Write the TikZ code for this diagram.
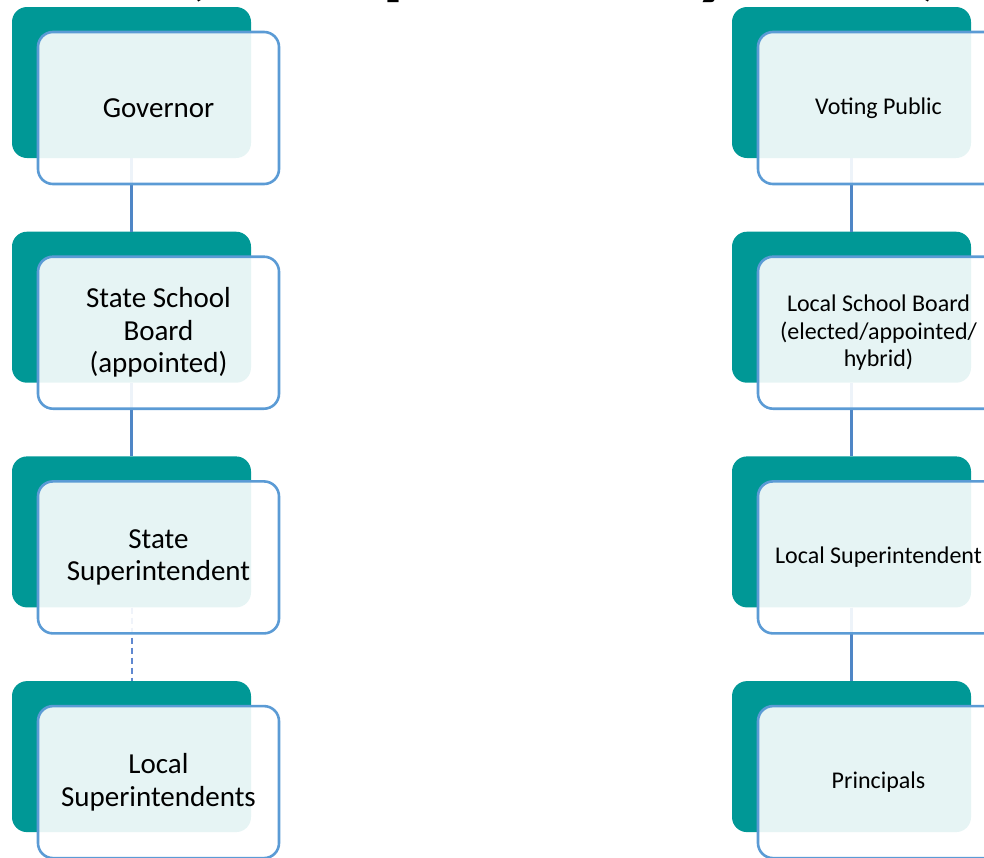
\documentclass[tikz,border=0pt]{standalone}
\usepackage{fontspec}
\setmainfont{Carlito}
\definecolor{tealfill}{RGB}{0,152,150}
\definecolor{bordercol}{RGB}{91,155,213}
\definecolor{conncol}{RGB}{79,134,198}
\definecolor{dashcol}{RGB}{96,136,208}
\begin{document}
\begin{tikzpicture}[x=1pt,y=-1pt,
  tealbox/.style={rectangle, rounded corners=15pt, fill=tealfill, draw=none,
    minimum width=239pt, minimum height=151pt, inner sep=0pt},
  lightbox/.style={rectangle, rounded corners=15pt, fill=white, fill opacity=0.9,
    text opacity=1, draw=bordercol, draw opacity=1, line width=2.6pt,
    minimum width=241pt, minimum height=152pt, inner sep=0pt, align=center, text=black},
  leftfont/.style={font=\fontsize{29}{32.5}\selectfont},
  rightfont/.style={font=\fontsize{24}{27.5}\selectfont},
  conn/.style={draw=conncol, line width=2.6pt},
  dashconn/.style={draw=dashcol, line width=2pt, dash pattern=on 6pt off 4pt},
  titleglyph/.style={font=\fontsize{90}{90}\bfseries, inner sep=0pt, text=black, anchor=base west}
]
\path[use as bounding box, clip] (0,0) rectangle (984,857);
% title fragments (cut off at the top)
\node[titleglyph] (g1) at (181,-12) {(};
\node[titleglyph] (g2) at (382,-12) {p};
\node[titleglyph] (g3) at (694,-12) {y};
\node[titleglyph] (g4) at (917,-12) {)};
% teal back boxes
\node[tealbox] (tl1) at (131.5,82.5) {};
\node[tealbox] (tl2) at (131.5,307.2) {};
\node[tealbox] (tl3) at (131.5,531.9) {};
\node[tealbox] (tl4) at (131.5,756.6) {};
\node[tealbox] (tr1) at (851.5,82.5) {};
\node[tealbox] (tr2) at (851.5,307.2) {};
\node[tealbox] (tr3) at (851.5,531.9) {};
\node[tealbox] (tr4) at (851.5,756.6) {};
% connectors
\draw[conn] (tl1.south) -- (tl2.north);
\draw[conn] (tl2.south) -- (tl3.north);
\draw[dashconn] (tl3.south) -- (tl4.north);
\draw[conn] (tr1.south) -- (tr2.north);
\draw[conn] (tr2.south) -- (tr3.north);
\draw[conn] (tr3.south) -- (tr4.north);
% front boxes
\node[lightbox, leftfont] (l1) at (158.5,108) {Governor};
\node[lightbox, leftfont] (l2) at (158.5,332.7) {State School\\Board\\(appointed)};
\node[lightbox, leftfont] (l3) at (158.5,557.4) {State\\Superintendent};
\node[lightbox, leftfont] (l4) at (158.5,782.1) {Local\\Superintendents};
\node[lightbox, rightfont] (r1) at (878.5,108) {Voting Public};
\node[lightbox, rightfont] (r2) at (878.5,332.7) {Local School Board\\(elected/appointed/\\hybrid)};
\node[lightbox, rightfont] (r3) at (878.5,557.4) {Local Superintendent};
\node[lightbox, rightfont] (r4) at (878.5,782.1) {Principals};
\end{tikzpicture}
\end{document}
